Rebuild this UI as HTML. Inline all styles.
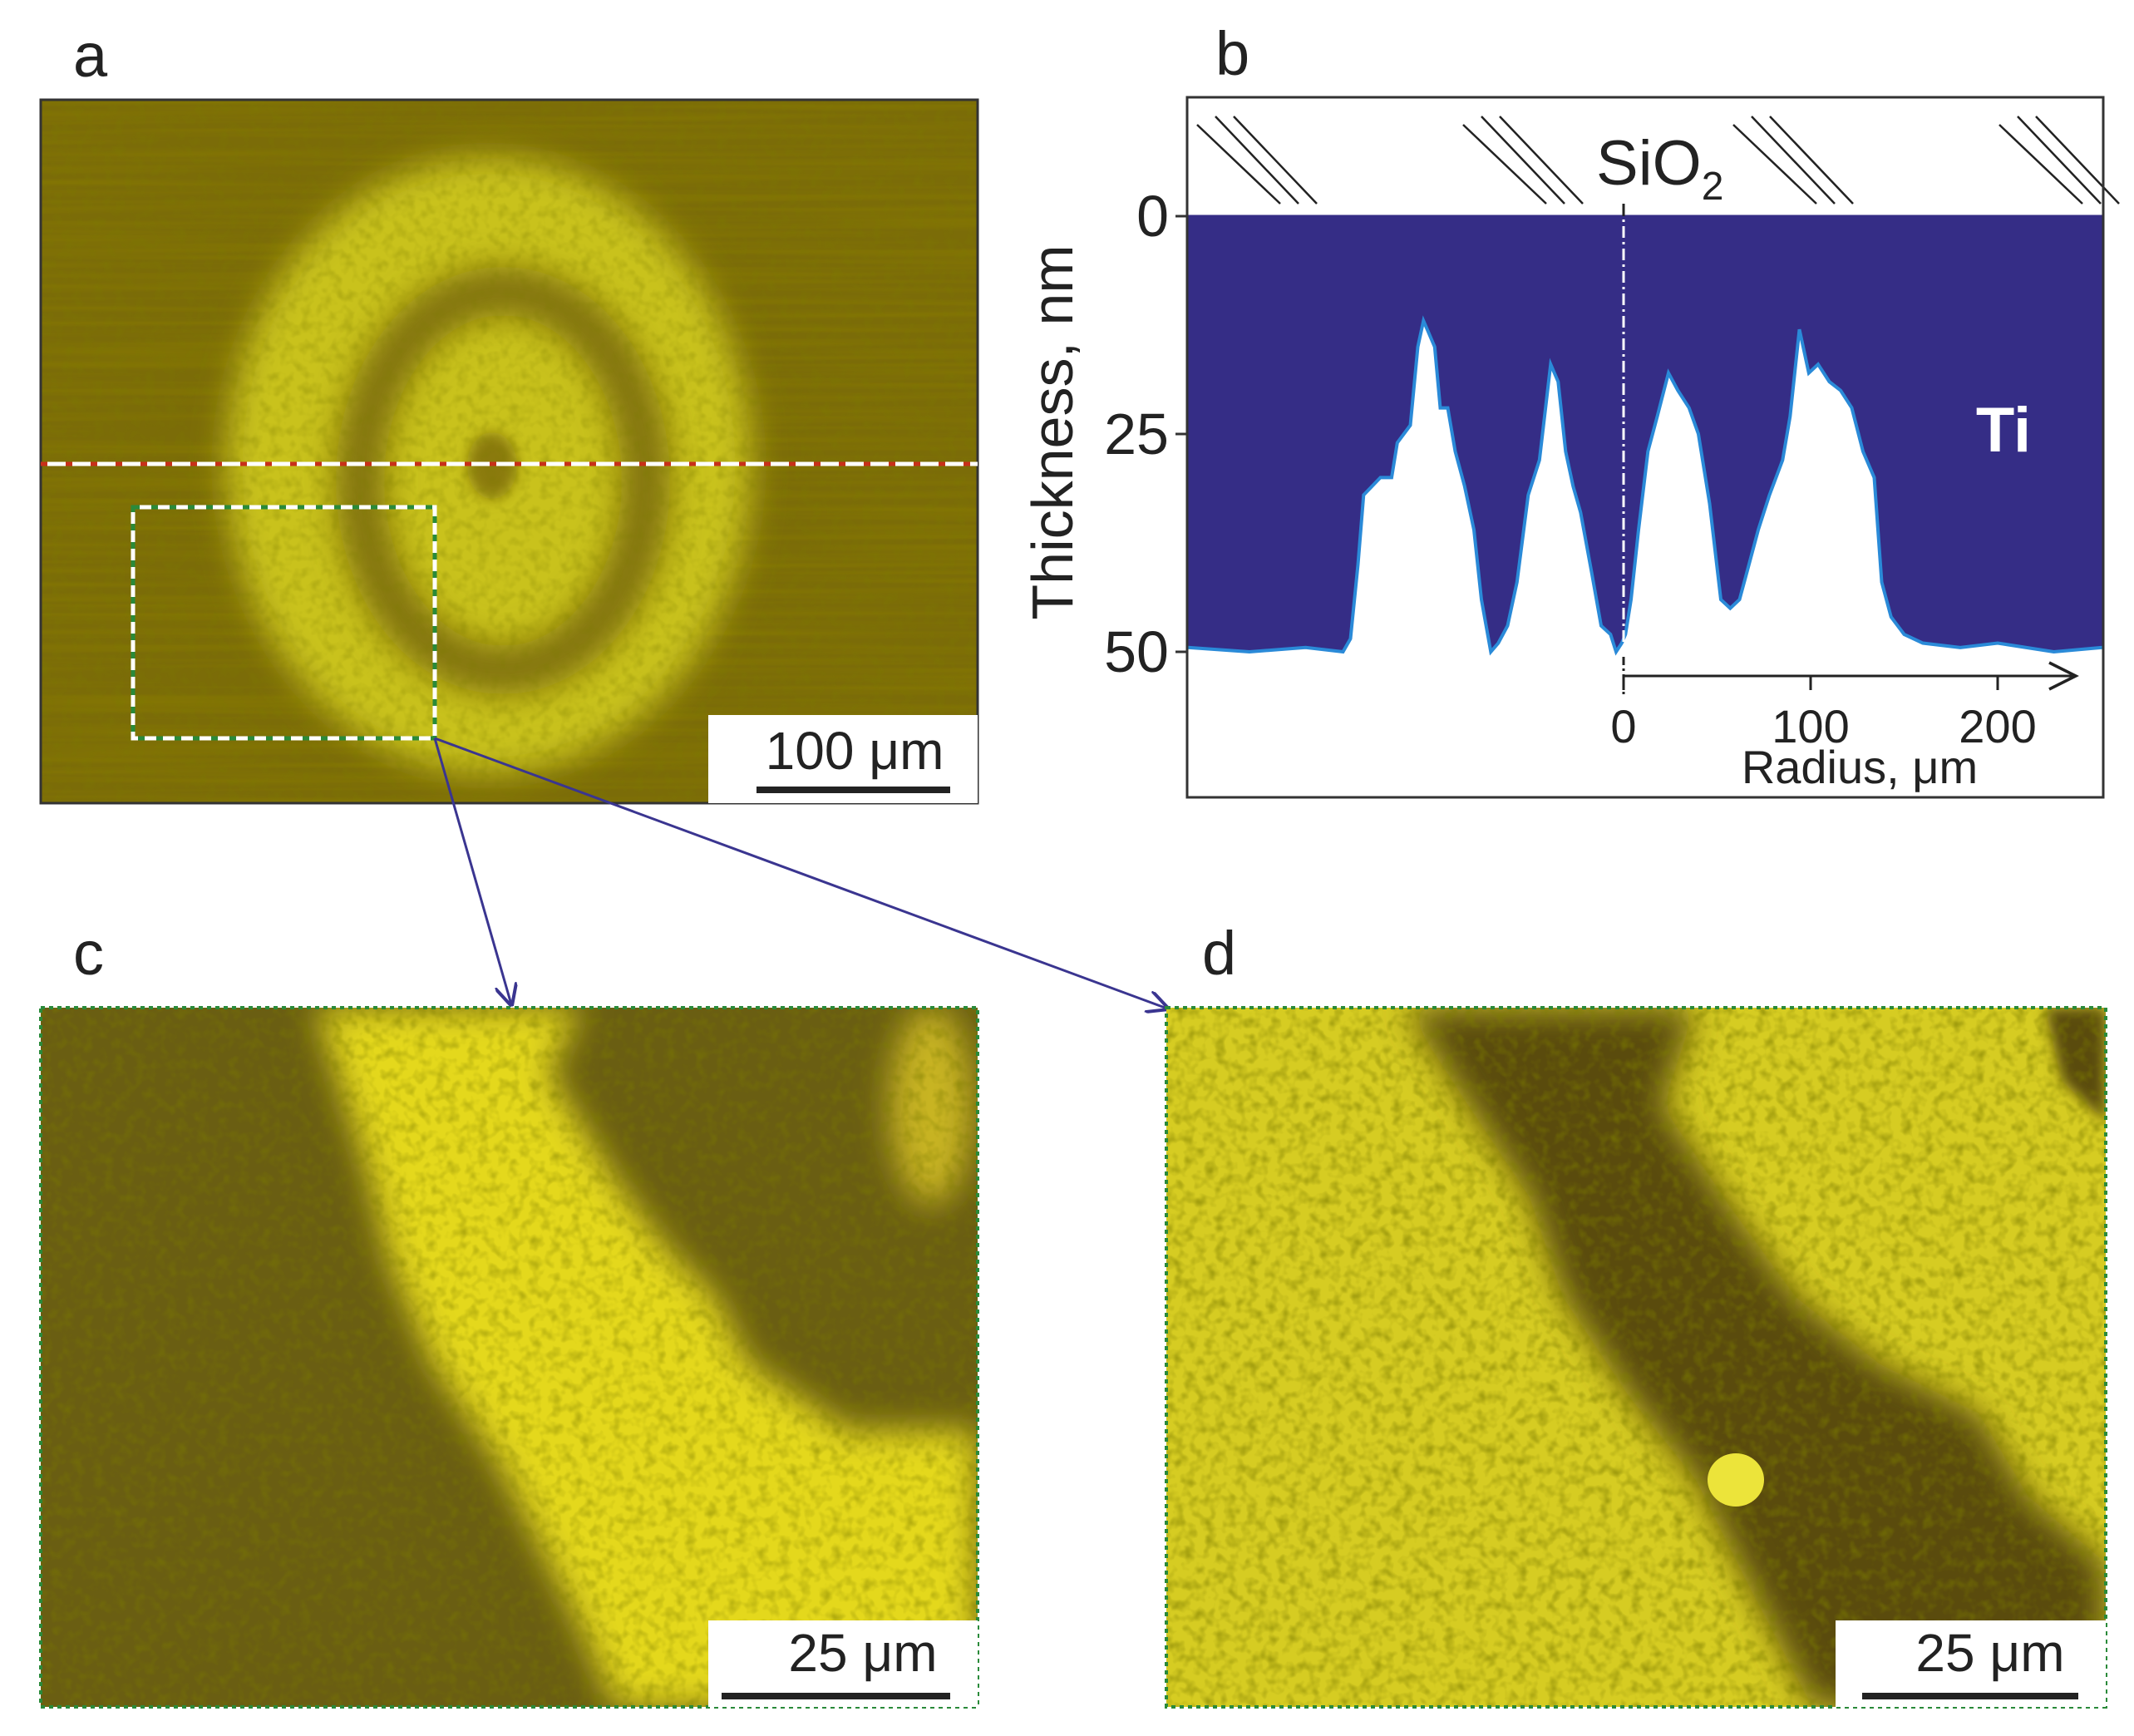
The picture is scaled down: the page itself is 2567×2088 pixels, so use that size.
<!DOCTYPE html>
<html><head><meta charset="utf-8"><style>
html,body{margin:0;padding:0;background:#fff;}
svg{display:block;font-family:"Liberation Sans",Arial,sans-serif;}
</style></head><body>
<svg id="fig" width="2567" height="2088" viewBox="0 0 2567 2088" xmlns="http://www.w3.org/2000/svg">
<defs>
<filter id="blur8" x="-50%" y="-50%" width="200%" height="200%"><feGaussianBlur stdDeviation="8"/></filter>
<filter id="blur20" x="-50%" y="-50%" width="200%" height="200%"><feGaussianBlur stdDeviation="20"/></filter>
<filter id="noise" x="0" y="0" width="100%" height="100%"><feTurbulence type="fractalNoise" baseFrequency="0.08" numOctaves="2" seed="3"/><feColorMatrix type="matrix" values="0 0 0 0 0.2  0 0 0 0 0.2  0 0 0 0 0  0 0 0 -1.4 0.8"/></filter>
<filter id="stripes" x="0" y="0" width="100%" height="100%"><feTurbulence type="fractalNoise" baseFrequency="0.002 0.12" numOctaves="2" seed="7"/><feColorMatrix type="matrix" values="0 0 0 0 0.25 0 0 0 0 0.2 0 0 0 0 0 0 0 0 -1.2 0.75"/></filter>
<clipPath id="clipA"><rect x="49" y="120" width="1127" height="846"/></clipPath>
<clipPath id="clipC"><rect x="49" y="1212" width="1127" height="841"/></clipPath>
<clipPath id="clipD"><rect x="1403" y="1212" width="1130" height="841"/></clipPath>
<clipPath id="clipB"><rect x="1428" y="117" width="1102" height="842"/></clipPath>
<marker id="ah" viewBox="0 0 10 10" refX="9" refY="5" markerWidth="9" markerHeight="9" orient="auto"><path d="M0,0 L10,5 L0,10" fill="none" stroke="#3a3590" stroke-width="1.5"/></marker>
</defs>

<text x="88" y="92" font-size="74" fill="#222">a</text>
<text x="1462" y="90" font-size="74" fill="#222">b</text>
<text x="88" y="1172" font-size="74" fill="#222">c</text>
<text x="1446" y="1172" font-size="74" fill="#222">d</text>

<g clip-path="url(#clipA)">
<rect x="49" y="120" width="1127" height="846" fill="#7b6c08"/>
<rect x="49" y="120" width="1127" height="846" filter="url(#stripes)"/>
<ellipse cx="588" cy="560" rx="315" ry="370" fill="#c9c21e" filter="url(#blur20)"/>
<ellipse cx="605" cy="578" rx="172" ry="228" fill="none" stroke="#7f700e" stroke-width="58" filter="url(#blur20)"/>
<ellipse cx="592" cy="560" rx="30" ry="40" fill="#8a7a10" filter="url(#blur8)"/>
<rect x="49" y="120" width="1127" height="846" filter="url(#noise)" opacity="0.5"/>
</g>
<rect x="49" y="120" width="1127" height="846" fill="none" stroke="#333" stroke-width="3"/>
<line x1="49" y1="558" x2="1176" y2="558" stroke="#fff" stroke-width="5"/>
<line x1="49" y1="558" x2="1176" y2="558" stroke="#c8301a" stroke-width="5" stroke-dasharray="8 22"/>
<rect x="160" y="610" width="363" height="278" fill="none" stroke="#fff" stroke-width="5"/>
<rect x="160" y="610" width="363" height="278" fill="none" stroke="#2a8a3a" stroke-width="5" stroke-dasharray="8 14"/>
<g>
<rect x="852" y="860" width="324" height="106" fill="#fff"/>
<text x="1028" y="925" font-size="64" text-anchor="middle" fill="#222">100 μm</text>
<line x1="910" y1="950" x2="1143" y2="950" stroke="#222" stroke-width="8"/>
</g>

<line x1="523" y1="888" x2="615" y2="1208" stroke="#3a3590" stroke-width="3" marker-end="url(#ah)"/>
<line x1="523" y1="888" x2="1404" y2="1213" stroke="#3a3590" stroke-width="3" marker-end="url(#ah)"/>

<g clip-path="url(#clipC)">
<rect x="49" y="1212" width="1127" height="841" fill="#6a5e12"/>
<path d="M380,1212 L700,1212 L660,1290 L740,1420 L800,1500 L860,1560 L900,1640 L1020,1720 L1176,1720 L1176,2053 L740,2053 L700,1960 L650,1860 L600,1760 L520,1640 L470,1520 L440,1400 Z" fill="#e4d81a" filter="url(#blur20)"/>
<ellipse cx="1120" cy="1330" rx="50" ry="120" fill="#c8b420" filter="url(#blur20)"/>
<rect x="49" y="1212" width="1127" height="841" filter="url(#noise)" opacity="0.7"/>
</g>
<rect x="49" y="1212" width="1127" height="841" fill="none" stroke="#2a8a3a" stroke-width="4" stroke-dasharray="5 5"/>
<g>
<rect x="852" y="1949" width="324" height="104" fill="#fff"/>
<text x="1038" y="2010" font-size="64" text-anchor="middle" fill="#222">25 μm</text>
<line x1="868" y1="2040" x2="1143" y2="2040" stroke="#222" stroke-width="8"/>
</g>

<g clip-path="url(#clipD)">
<rect x="1403" y="1212" width="1130" height="841" fill="#d6cc22"/>
<path d="M1690,1212 L2040,1212 L2000,1330 L2080,1450 L2160,1560 L2260,1640 L2380,1700 L2440,1800 L2533,1880 L2533,2053 L2180,2053 L2100,1900 L2040,1780 L1960,1680 L1880,1560 L1840,1440 L1760,1320 Z" fill="#5a4c10" filter="url(#blur20)"/>
<path d="M2460,1212 L2533,1212 L2533,1350 L2480,1300 Z" fill="#5a4c10" filter="url(#blur8)"/>
<rect x="1403" y="1212" width="1130" height="841" filter="url(#noise)" opacity="0.9"/>
<ellipse cx="2088" cy="1780" rx="34" ry="32" fill="#ece43a"/>
</g>
<rect x="1403" y="1212" width="1130" height="841" fill="none" stroke="#2a8a3a" stroke-width="4" stroke-dasharray="5 5"/>
<g>
<rect x="2208" y="1949" width="325" height="104" fill="#fff"/>
<text x="2394" y="2010" font-size="64" text-anchor="middle" fill="#222">25 μm</text>
<line x1="2240" y1="2040" x2="2500" y2="2040" stroke="#222" stroke-width="8"/>
</g>

<g id="chartB"></g>
</svg>
<script>
const radii = [-233,-200,-170,-150,-146,-142,-139,-130,-124,-121,-114,-110,-107,-105,-101,-98,-94,-90,-85,-80,-76,-71,-67,-62,-57,-51,-45,-39,-35,-31,-27,-23,-17,-12,-7,-4,-1,1,4,8,13,18,24,29,35,40,46,52,57,62,67,72,78,85,89,94,99,104,110,116,122,128,134,138,143,150,160,180,200,230,256];
const thickness = [49.5,50,49.5,50,48.5,40,32,30,30,26,24,15,12,13,15,22,22,27,31,36,44,50,49,47,42,32,28,17,19,27,31,34,41,47,48,50,49,48,44,36,27,23,18,20,22,25,33,44,45,44,40,36,32,28,23,13,18,17,19,20,22,27,30,42,46,48,49,49.5,49,50,49.5];
const yTicks = [0,25,50];
const xTicks = [0,100,200];
const ns='http://www.w3.org/2000/svg';
const g=document.getElementById('chartB');
const L=1428,R=2530,T=117,B=959,Y0=260;
const xS=r=>1953+r*2.25;
const yS=v=>Y0+v*10.48;
function mk(tag,attrs,parent){const e=document.createElementNS(ns,tag);for(const k in attrs)e.setAttribute(k,attrs[k]);(parent||g).appendChild(e);return e;}
const hatchX=[1440,1760,2085,2405];
hatchX.forEach((hx,i)=>{
  for(let j=0;j<3;j++){
    const off=j*22;
    const ln=mk('line',{x1:hx+off,y1:140+(j==0?10:0),x2:hx+off+100,y2:245,stroke:'#222','stroke-width':2.5});
    
    
  }
});
let d='M'+L+','+Y0+' L'+R+','+Y0;
for(let i=radii.length-1;i>=0;i--){d+=' L'+xS(radii[i]).toFixed(1)+','+yS(thickness[i]).toFixed(1);}
d+=' Z';
const area=mk('path',{d:d,fill:'#352d86','clip-path':'url(#clipB)'});


let pl='';
radii.forEach((r,i)=>{pl+=(i?' L':'M')+xS(r).toFixed(1)+','+yS(thickness[i]).toFixed(1);});
const edge=mk('path',{d:pl,fill:'none',stroke:'#2a8ad8','stroke-width':4,'clip-path':'url(#clipB)'});


const zl=mk('line',{x1:L,y1:Y0,x2:R,y2:Y0,stroke:'#352d86','stroke-width':3});


const cl=mk('line',{x1:xS(0),y1:245,x2:xS(0),y2:835,stroke:'#fff','stroke-width':3,'stroke-dasharray':'14 5 3 5'});


const cl2=mk('line',{x1:xS(0),y1:245,x2:xS(0),y2:260,stroke:'#222','stroke-width':3});


const cl3=mk('line',{x1:xS(0),y1:790,x2:xS(0),y2:835,stroke:'#222','stroke-width':3,'stroke-dasharray':'10 4 3 4'});


const fr=mk('rect',{x:L,y:T,width:R-L,height:B-T,fill:'none',stroke:'#333','stroke-width':3});


yTicks.forEach(v=>{
  const t=mk('line',{x1:L-14,y1:yS(v),x2:L,y2:yS(v),stroke:'#333','stroke-width':3});
  
  
  const tx=mk('text',{x:L-22,y:yS(v)+24,'font-size':70,'text-anchor':'end',fill:'#222'});
  tx.textContent=v;
  
  
});
const yt=mk('text',{x:0,y:0,'font-size':70,'text-anchor':'middle',fill:'#222',transform:'translate(1290,520) rotate(-90)'});
yt.textContent='Thickness, nm';


const ax=mk('line',{x1:xS(0),y1:813,x2:2495,y2:813,stroke:'#222','stroke-width':3});


const ah=mk('path',{d:'M2465,797 L2497,813 L2465,829',fill:'none',stroke:'#222','stroke-width':3.5});


xTicks.forEach(v=>{
  const t=mk('line',{x1:xS(v),y1:813,x2:xS(v),y2:830,stroke:'#222','stroke-width':3});
  
  
  const tx=mk('text',{x:xS(v),y:893,'font-size':56,'text-anchor':'middle',fill:'#222'});
  tx.textContent=v;
  
  
});
const xt=mk('text',{x:2237,y:942,'font-size':56,'text-anchor':'middle',fill:'#222'});
xt.textContent='Radius, μm';


const si=mk('text',{x:1920,y:222,'font-size':76,fill:'#222'});


si.appendChild(document.createTextNode('SiO'));
const sub=mk('tspan',{'font-size':48,dy:18},si);
sub.textContent='2';


const ti=mk('text',{x:2410,y:543,'font-size':76,'font-weight':'bold','text-anchor':'middle',fill:'#fff'});
ti.textContent='Ti';


</script>
</body></html>
